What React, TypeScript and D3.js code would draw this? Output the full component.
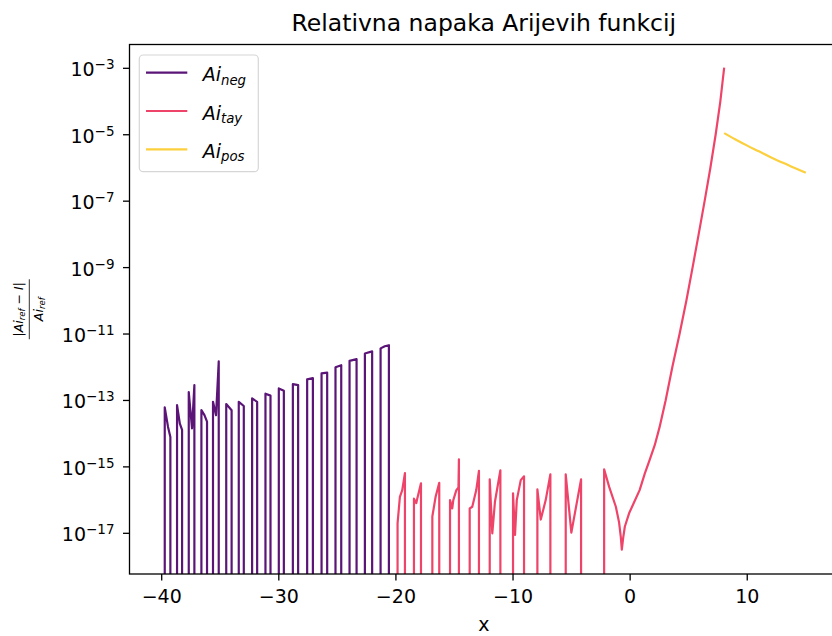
import React from "react";
import * as d3 from "d3";

// relativna napaka, 0 = tocna vrednost (gre pod spodnji rob)
const negX = [
  -39.74, -39.74, -39.46, -39.26, -39.26,
  -38.69, -38.69, -38.45, -38.26, -38.26,
  -37.69, -37.69, -37.41, -37.21, -37.21,
  -36.61, -36.61, -36.35, -36.13, -36.13,
  -35.62, -35.62, -35.36, -35.13, -35.13,
  -34.49, -34.49, -34.03, -34.03,
  -33.42, -33.42, -32.99, -32.99,
  -32.28, -32.28, -31.85, -31.85,
  -31.14, -31.14, -30.71, -30.71,
  -30.0, -30.0, -29.57, -29.57,
  -28.8, -28.8, -28.35, -28.35,
  -27.58, -27.58, -27.09, -27.09,
  -26.35, -26.35, -25.87, -25.87,
  -25.16, -25.16, -24.67, -24.67,
  -23.96, -23.96, -23.36, -23.36,
  -22.65, -22.65, -22.03, -22.03,
  -21.31, -21.31, -20.95, -20.6, -20.6,
];
const negY = [
  0, 6.2e-14, 1.6e-14, 8e-15, 0,
  0, 7.2e-14, 2.0e-14, 1.3e-14, 0,
  0, 1.8e-13, 1.45e-14, 2.9e-13, 0,
  0, 5.1e-14, 3.6e-14, 2.3e-14, 0,
  0, 9.1e-14, 3.6e-14, 1.5e-12, 0,
  0, 7.8e-14, 5.1e-14, 0,
  0, 9.1e-14, 6.8e-14, 0,
  0, 1.15e-13, 9.1e-14, 0,
  0, 1.6e-13, 1.4e-13, 0,
  0, 2.3e-13, 1.95e-13, 0,
  0, 3.1e-13, 2.9e-13, 0,
  0, 4.3e-13, 4.7e-13, 0,
  0, 6.5e-13, 6.9e-13, 0,
  0, 1.0e-12, 1.15e-12, 0,
  0, 1.55e-12, 1.75e-12, 0,
  0, 2.6e-12, 3.0e-12, 0,
  0, 3.7e-12, 4.3e-12, 4.6e-12, 0,
];

const tayX = [
  -20.0, -19.86, -19.86, -19.66, -19.46, -19.23, -19.23,
  -18.46, -18.46, -18.26, -18.18, -17.86, -17.86,
  -16.89, -16.89, -16.61, -16.3, -16.3,
  -15.38, -15.38, -15.19, -15.1, -14.84, -14.66, -14.62, -14.62,
  -13.7, -13.7, -13.48, -13.14, -12.91, -12.91,
  -11.99, -11.99, -11.77, -11.54, -11.08, -11.08,
  -10.0, -10.0, -9.83, -9.68, -9.34, -9.06, -9.06,
  -7.92, -7.92, -7.63, -7.21, -6.81, -6.81,
  -5.5, -5.5, -5.02, -4.19, -4.19,
  -2.22, -2.22, -1.79, -1.22, -0.95, -0.8, -0.71, -0.6, -0.45, -0.09,
  0.3, 0.81, 1.25, 1.66, 2.1, 2.52, 3.03, 3.6, 4.22, 4.8, 5.33, 5.85,
  6.36, 6.85, 7.3, 7.7, 8.03,
];
const tayY = [
  0, 0, 2.0e-17, 1.26e-16, 2.0e-16, 6.5e-16, 0,
  0, 1.1e-16, 8.1e-17, 1.1e-16, 3.2e-16, 0,
  0, 3.2e-17, 1.26e-16, 3.3e-16, 0,
  0, 1.0e-16, 5.6e-17, 1.0e-16, 2.0e-16, 2.4e-16, 1.7e-15, 0,
  0, 5.6e-17, 6.3e-17, 2.0e-16, 7.6e-16, 0,
  0, 4.2e-16, 1.0e-17, 9.1e-17, 7.9e-16, 0,
  0, 1.6e-16, 8.9e-18, 1.0e-16, 4.0e-16, 5.2e-16, 0,
  0, 2.1e-16, 2.6e-17, 1.0e-16, 6.0e-16, 0,
  0, 6.0e-16, 1.05e-17, 4.2e-16, 0,
  0, 8.5e-16, 2.5e-16, 6.3e-17, 2.2e-17, 8e-18, 3.2e-18, 7e-18, 1.6e-17, 4.0e-17,
  8e-17, 2.0e-16, 6.3e-16, 1.6e-15, 4.5e-15, 1.6e-14, 1.0e-13, 1.0e-12, 1.0e-11, 1.0e-10, 1.0e-9, 1.0e-8,
  1.0e-7, 1.0e-6, 1.0e-5, 1.0e-4, 1.05e-3,
];

const posX = [8.03, 9, 10, 11, 12, 13, 14, 15];
const posY = [1.12e-5, 7.2e-6, 4.7e-6, 3.16e-6, 2.1e-6, 1.45e-6, 1.02e-6, 7.2e-7];

const xTicks = [-40, -30, -20, -10, 0, 10];
const yExps = [-17, -15, -13, -11, -9, -7, -5, -3];

const series = [
  { name: "neg", xs: negX, ys: negY, color: "#5a1576", smooth: false },
  { name: "tay", xs: tayX, ys: tayY, color: "#ee4469", smooth: false },
  { name: "pos", xs: posX, ys: posY, color: "#fccf3c", smooth: true },
];

const W = 832;
const H = 636;
const left = 129.5;
const right = 838;
const top = 44.5;
const bottom = 574;
const font = "DejaVu Sans, sans-serif";

const App = () => {
  const x = d3.scaleLinear().domain([-42.75, 17.75]).range([left, right]);
  const y = d3.scaleLog().domain([Math.pow(10, -18.225), Math.pow(10, -2.283)]).range([bottom, top]);

  const makeLine = (smooth: boolean) =>
    d3
      .line<[number, number]>()
      .x((d) => x(d[0]))
      .y((d) => (d[1] > 0 ? y(d[1]) : bottom + 80))
      .curve(smooth ? d3.curveMonotoneX : d3.curveLinear);

  const cy = (top + bottom) / 2;

  return (
    <svg width={W} height={H} style={{ position: "absolute", left: 0, top: 0 }} fontFamily={font}>
      <defs>
        <clipPath id="plot">
          <rect x={left} y={top} width={right - left} height={bottom - top} />
        </clipPath>
      </defs>
      <rect width={W} height={H} fill="#fff" />

      <g clipPath="url(#plot)">
        {series.map((s) => (
          <path
            key={s.name}
            d={makeLine(s.smooth)(s.xs.map((v, i) => [v, s.ys[i]]) as [number, number][]) || ""}
            fill="none"
            stroke={s.color}
            strokeWidth={2.2}
            strokeLinejoin="round"
          />
        ))}
      </g>

      {/* okvir */}
      <rect x={left} y={top} width={right - left} height={bottom - top} fill="none" stroke="#000" strokeWidth={1.3} />

      {/* x os */}
      {xTicks.map((t) => (
        <g key={t} transform={`translate(${x(t)},${bottom})`}>
          <line y2={6.5} stroke="#000" strokeWidth={1.3} />
          <text y={29} textAnchor="middle" fontSize={19}>
            {t < 0 ? "\u2212" + Math.abs(t) : t}
          </text>
        </g>
      ))}
      <text x={(left + right) / 2} y={631} textAnchor="middle" fontSize={19}>
        x
      </text>

      {/* y os */}
      {yExps.map((e) => (
        <g key={e} transform={`translate(${left},${y(Math.pow(10, e))})`}>
          <line x2={-6.5} stroke="#000" strokeWidth={1.3} />
          <text x={-15} y={8} textAnchor="end" fontSize={19}>
            <tspan>10</tspan>
            <tspan dy={-7} fontSize={13.5}>{"\u2212" + Math.abs(e)}</tspan>
          </text>
        </g>
      ))}

      {/* oznaka y osi: |Ai_ref - I| / Ai_ref */}
      <g transform={`translate(29.3,${cy}) rotate(-90)`} fontStyle="italic">
        <line x1={-30} x2={30} stroke="#333" strokeWidth={1} />
        <text y={-6} textAnchor="middle" fontSize={12.5}>
          <tspan fontStyle="normal">|</tspan>
          <tspan>Ai</tspan>
          <tspan fontSize={8.5} dy={2}>ref</tspan>
          <tspan dy={-2} fontStyle="normal"> {"\u2212"} </tspan>
          <tspan>I</tspan>
          <tspan fontStyle="normal">|</tspan>
        </text>
        <text y={13.5} textAnchor="middle" fontSize={12.5}>
          <tspan>Ai</tspan>
          <tspan fontSize={8.5} dy={2}>ref</tspan>
        </text>
      </g>

      <text x={(left + right) / 2} y={31} textAnchor="middle" fontSize={23.5}>
        Relativna napaka Arijevih funkcij
      </text>

      {/* legenda */}
      <rect x={139.3} y={55} width={119} height={116.7} rx={4} fill="#fff" fillOpacity={0.8} stroke="#d6d6d6" strokeWidth={1.2} />
      {series.map((s, i) => {
        const ly = 72.7 + i * 38.3;
        return (
          <g key={s.name}>
            <line x1={146} x2={187.3} y1={ly} y2={ly} stroke={s.color} strokeWidth={2.2} />
            <text x={202.7} y={ly + 8.5} fontSize={19} fontStyle="italic">
              <tspan>Ai</tspan>
              <tspan fontSize={13.3} dy={3.5}>{s.name}</tspan>
            </text>
          </g>
        );
      })}
    </svg>
  );
};

export default App;
